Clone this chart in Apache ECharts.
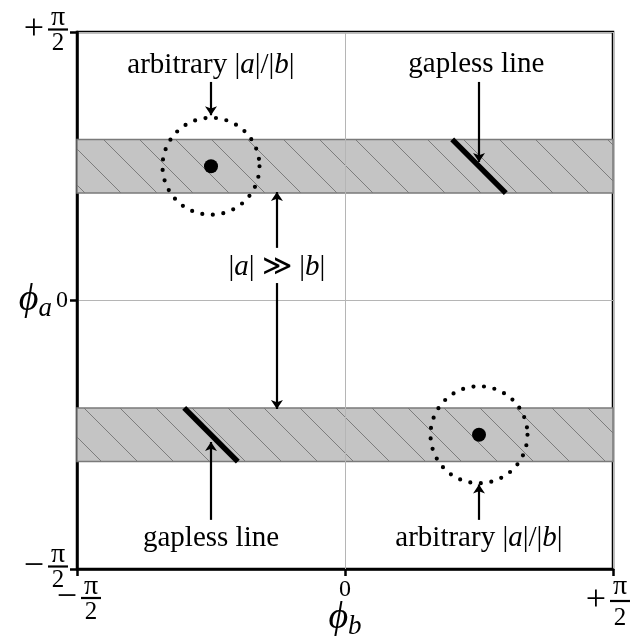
<!DOCTYPE html>
<html>
<head>
<meta charset="utf-8">
<script src="https://cdn.jsdelivr.net/npm/echarts@6/dist/echarts.min.js"></script>
<style>html,body{margin:0;padding:0;background:#fff}#c{width:638px;height:640px}</style>
</head>
<body>
<div id="c"></div>
<script>
// ---- data (axis units of pi/2) ----
const axisTicks = [-1, 0, 1];
const bandLow = [0.4, -0.6];
const bandHigh = [0.6, -0.4];
const circleCenters = [[-0.5, 0.5], [0.5, -0.5]];
const gaplessLineA = [[0.4, 0.6], [0.6, 0.4]];
const gaplessLineB = [[-0.6, -0.4], [-0.4, -0.6]];
const arrowStarts = [[-0.5, 0.814], [0.5, 0.814], [-0.254, 0.196], [-0.254, 0.065], [-0.5, -0.817], [0.5, -0.817]];
const arrowEnds = [[-0.5, 0.69], [0.5, 0.516], [-0.254, 0.404], [-0.254, -0.404], [-0.5, -0.527], [0.5, -0.685]];
const annotationTexts = ['arbitrary |{i|a}|/|{i|b}|', 'gapless line', '|{i|a}| ≫ |{i|b}|', 'gapless line', 'arbitrary |{i|a}|/|{i|b}|'];
const annotationPos = [[-0.5, 0.875], [0.49, 0.88], [-0.254, 0.125], [-0.5, -0.885], [0.5, -0.885]];

// hatch pattern
const pc = document.createElement('canvas');
pc.width = 36; pc.height = 36;
const g = pc.getContext('2d');
g.fillStyle = '#c4c4c4'; g.fillRect(0, 0, 36, 36);
g.strokeStyle = '#7c7c7c'; g.lineWidth = 1;
for (let k = -1; k <= 1; k++) { g.beginPath(); g.moveTo(k * 36, 0); g.lineTo(k * 36 + 36, 36); g.stroke(); }

const FONT = 'Liberation Serif, DejaVu Serif, serif';
const fracRich = {
  z: {fontSize: 24, fontFamily: FONT, color: '#000'},
  num: {fontSize: 28, fontFamily: FONT, width: 20, align: 'center', lineHeight: 17, color: '#000'},
  den: {fontSize: 25, fontFamily: FONT, width: 20, align: 'center', lineHeight: 22, color: '#000'},
  bar: {width: 20, height: 2.2, lineHeight: 6, backgroundColor: '#000'},
  sg: {fontSize: 36, fontFamily: FONT, width: 28, align: 'center', lineHeight: 6, color: '#000'},
  sp: {width: 28},
  pad: {width: 14}
};
function fracLabel(v, extra) {
  if (v === 0) return '{z|0}';
  const s = v > 0 ? '+' : '\u2212';
  const e = extra && v > 0 ? '{pad|}' : '';
  return '{sp|}{num|π}' + e + '\n{sg|' + s + '}{bar|}' + e + '\n{sp|}{den|2}' + e;
}

const annRich = {
  t: {fontSize: 29, fontFamily: FONT, color: '#000'},
  i: {fontSize: 29, fontFamily: FONT, fontStyle: 'italic', color: '#000'}
};
function annFmt(s) {
  const parts = s.split(/(\{i\|[^}]*\})/);
  return parts.map(p => p.startsWith('{i|') ? p : (p ? '{t|' + p + '}' : '')).join('');
}
const nameRich = {
  p: {fontSize: 38, fontFamily: FONT, fontStyle: 'italic', color: '#000'},
  s: {fontSize: 27, fontFamily: FONT, fontStyle: 'italic', color: '#000', padding: [16, 0, 0, 0]}
};

const chart = echarts.init(document.getElementById('c'), null, {renderer: 'canvas'});
const axisCommon = {
  type: 'value', min: -1, max: 1, interval: 1,
  nameMoveOverlap: false,
  axisLine: {show: true, onZero: false, lineStyle: {color: '#000', width: 2.5}},
  axisTick: {show: true, length: 7, lineStyle: {color: '#000', width: 2.5}},
  splitLine: {show: true, lineStyle: {color: '#b5b5b5', width: 1}}
};
chart.setOption({
  animation: false,
  backgroundColor: '#fff',
  grid: {left: 77, right: 25, top: 32, bottom: 71, containLabel: false, outerBoundsMode: 'none', show: true, borderColor: '#000', borderWidth: 2.5, backgroundColor: 'transparent'},
  xAxis: Object.assign({}, axisCommon, {
    name: '{p|ϕ}{s|b}', nameLocation: 'middle', nameGap: 28,
    nameTextStyle: {rich: nameRich},
    axisLabel: {margin: 9, verticalAlign: 'top', formatter: v => fracLabel(v, true), rich: fracRich}
  }),
  yAxis: Object.assign({}, axisCommon, {
    name: '{p|ϕ}{s|a}', nameLocation: 'middle', nameGap: 25, nameRotate: 0,
    nameTextStyle: {align: 'right', rich: nameRich},
    axisLabel: {margin: 9, formatter: v => fracLabel(v, false), rich: fracRich}
  }),
  series: [
    {
      type: 'line', data: [], silent: true, z: 1,
      markArea: {
        silent: true,
        itemStyle: {color: {image: pc, repeat: 'repeat'}, opacity: 1, borderColor: '#7a7a7a', borderWidth: 1.5},
        data: bandLow.map((lo, i) => [{yAxis: lo}, {yAxis: bandHigh[i]}])
      }
    },
    {
      type: 'line', data: [], silent: true, z: 3,
      markLine: {
        silent: true, symbol: 'none', label: {show: false},
        lineStyle: {color: '#b5b5b5', width: 1, type: 'solid', opacity: 1},
        data: [{xAxis: axisTicks[1]}]
      }
    },
    {
      type: 'line', data: gaplessLineA, symbol: 'none', lineStyle: {color: '#000', width: 5.5}, z: 5
    },
    {
      type: 'line', data: gaplessLineB, symbol: 'none', lineStyle: {color: '#000', width: 5.5}, z: 5
    },
    {
      type: 'scatter', data: circleCenters, symbol: 'circle', symbolSize: 97, z: 4,
      itemStyle: {opacity: 1, color: 'rgba(0,0,0,0)', borderColor: '#000', borderWidth: 4.2, borderType: [0, 10.6], borderCap: 'round'}
    },
    {
      type: 'scatter', data: circleCenters, symbol: 'circle', symbolSize: 14, z: 6,
      itemStyle: {color: '#000', opacity: 1}
    },
    {
      type: 'lines', coordinateSystem: 'cartesian2d', z: 6,
      symbol: ['none', 'arrow'], symbolSize: [0, 9],
      lineStyle: {color: '#000', width: 2.2, opacity: 1},
      data: arrowStarts.map((s, i) => ({coords: [s, arrowEnds[i]]}))
    },
    {
      type: 'scatter', symbolSize: 1, z: 7, itemStyle: {color: 'rgba(0,0,0,0)', opacity: 1},
      data: annotationPos.map((p, i) => ({value: p, name: annotationTexts[i]})),
      label: {show: true, position: 'inside', opacity: 1, formatter: p => annFmt(annotationTexts[p.dataIndex]), rich: annRich}
    }
  ]
});
</script>
</body>
</html>
